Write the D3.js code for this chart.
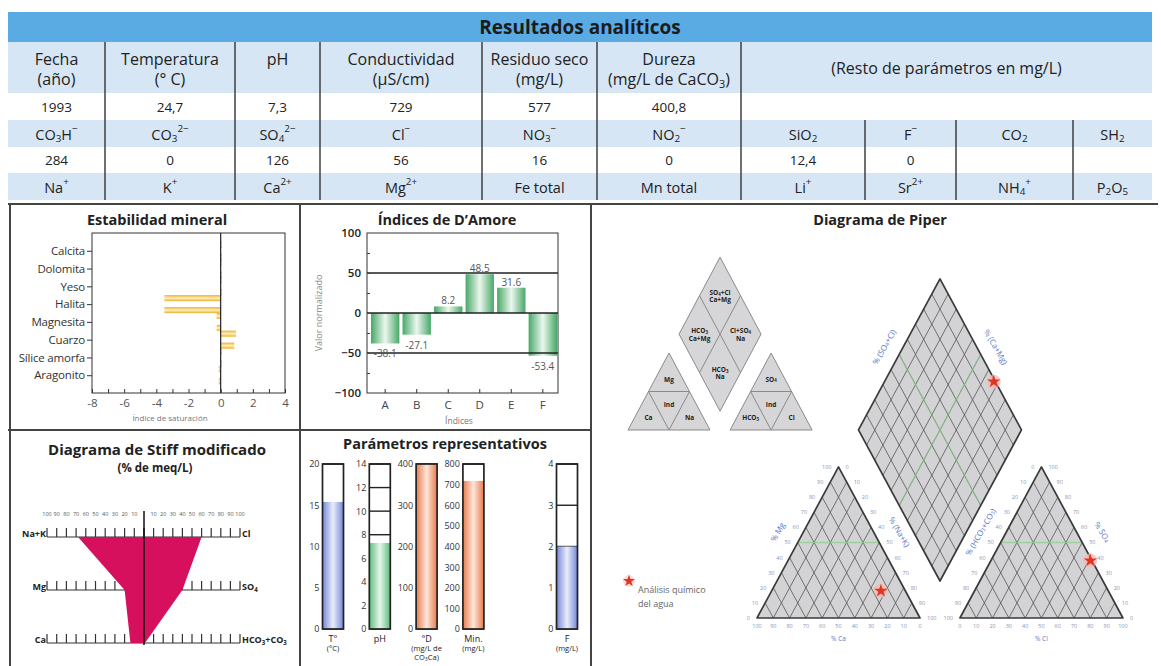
<!DOCTYPE html>
<html><head><meta charset="utf-8">
<script src="https://cdn.jsdelivr.net/npm/d3@7"></script>
<style>
body{margin:0;background:#fff}
svg{display:block}
text{font-family:"Open Sans","Noto Sans","DejaVu Sans",sans-serif}
</style>
</head><body>
<svg id="c" width="1161" height="666"></svg>
<script>
// ---------------- DATA ----------------
const tableTitle = "Resultados analíticos";
const headerLabels = ["Fecha|(año)", "Temperatura|(° C)", "pH", "Conductividad|(µS/cm)", "Residuo seco|(mg/L)", "Dureza|(mg/L de CaCO_{3})"];
const restHeader = "(Resto de parámetros en mg/L)";
const generalValues = ["1993", "24,7", "7,3", "729", "577", "400,8"];
const ionLabelsA = ["CO_{3}H^{−}", "CO_{3}^{2−}", "SO_{4}^{2−}", "Cl^{−}", "NO_{3}^{−}", "NO_{2}^{−}", "SiO_{2}", "F^{−}", "CO_{2}", "SH_{2}"];
const ionValuesA = ["284", "0", "126", "56", "16", "0", "12,4", "0", "", ""];
const ionLabelsB = ["Na^{+}", "K^{+}", "Ca^{2+}", "Mg^{2+}", "Fe total", "Mn total", "Li^{+}", "Sr^{2+}", "NH_{4}^{+}", "P_{2}O_{5}"];

const minerals = ["Calcita", "Dolomita", "Yeso", "Halita", "Magnesita", "Cuarzo", "Sílice amorfa", "Aragonito"];
const satIndexA = [0.02, 0.06, 0.0, -3.5, -0.25, 0.95, 0.05, -0.12];
const satIndexB = [0.02, 0.05, 0.0, -3.5, -0.25, 0.85, 0.03, -0.12];
const satTicks = [-8, -6, -4, -2, 0, 2, 4];

const damoreIdx = ["A", "B", "C", "D", "E", "F"];
const damoreVal = [-38.1, -27.1, 8.2, 48.5, 31.6, -53.4];
const damoreTicks = [-100, -50, 0, 50, 100];

const stiffCations = ["Na+K", "Mg", "Ca"];
const stiffAnions = ["Cl", "SO_{4}", "HCO_{3}+CO_{3}"];
const stiffCatPct = [68, 20, 14];
const stiffAnPct = [60, 40, 1];
const stiffTicks = [0, 10, 20, 30, 40, 50, 60, 70, 80, 90, 100];

const paramNames = ["T°", "pH", "°D", "Min.", "F"];
const paramUnits = [["(°C)"], [], ["(mg/L de", "CO_{3}Ca)"], ["(mg/L)"], ["(mg/L)"]];
const paramMax = [20, 14, 400, 800, 4];
const paramStep = [5, 2, 100, 100, 1];
const paramVal = [15.4, 7.3, 400, 718, 2];
const paramColor = ["blue", "green", "orange", "orange", "blue"];

const cationNames = ["Ca", "Mg", "Na+K"];
const cationPct = [15, 18, 67];
const anionNames = ["HCO3+CO3", "SO4", "Cl"];
const anionPct = [1, 38, 61];
const piperTicks = [0, 10, 20, 30, 40, 50, 60, 70, 80, 90, 100];

// ---------------- HELPERS ----------------
const svg = d3.select("#c");
const defs = svg.append("defs");
function grad(id, edge, mid, vertical) {
  const g = defs.append("linearGradient").attr("id", id)
    .attr("x1", 0).attr("y1", 0).attr("x2", vertical ? 0 : 1).attr("y2", vertical ? 1 : 0);
  [[0, edge], [0.5, mid], [1, edge]].forEach(([o, c]) => g.append("stop").attr("offset", o).attr("stop-color", c));
}
grad("gGold", "#eeae2a", "#fff0c0", true);
grad("gGreen", "#47a867", "#ecf7ef", false);
grad("gblue", "#7388d8", "#e9edfb", false);
grad("ggreen", "#5fbd7c", "#e6f5ea", false);
grad("gorange", "#ea7a4c", "#fde6da", false);

function rich(sel, str, fs) {
  const re = /([_^])\{([^}]*)\}|([^_^]+)/g; let m, cur = 0;
  while ((m = re.exec(str))) {
    let target = 0, t0 = m[3], size = null;
    if (!m[3]) { target = m[1] === "_" ? fs * 0.28 : -fs * 0.38; t0 = m[2]; size = fs * 0.68; }
    const t = sel.append("tspan").attr("dy", target - cur).text(t0);
    if (size) t.attr("font-size", size);
    cur = target;
  }
}
function txt(g, x, y, s, fs, opt = {}) {
  const t = g.append("text").attr("x", x).attr("y", y).attr("font-size", fs)
    .attr("text-anchor", opt.anchor || "middle").attr("dominant-baseline", "central")
    .attr("fill", opt.fill || "#222").attr("font-weight", opt.bold ? 700 : 400);
  if (opt.rotate) t.attr("transform", `rotate(${opt.rotate},${x},${y})`);
  rich(t, s, fs);
  return t;
}

// ---------------- TABLE ----------------
const tbl = svg.append("g");
const colEdges = [8, 105, 235, 320, 482, 597, 741, 865, 956, 1073, 1152];
const rowEdges = [12, 42, 93, 120, 147, 173, 200];
const rowFill = ["#5aaae4", "#d6e6f5", "#ffffff", "#d6e6f5", "#ffffff", "#d6e6f5"];
rowFill.forEach((c, i) => tbl.append("rect").attr("x", colEdges[0]).attr("y", rowEdges[i])
  .attr("width", colEdges[10] - colEdges[0]).attr("height", rowEdges[i + 1] - rowEdges[i]).attr("fill", c));
txt(tbl, (colEdges[0] + colEdges[10]) / 2, 27, tableTitle, 19, {bold: true, fill: "#1b1b1b"});
const cx = i => (colEdges[i] + colEdges[i + 1]) / 2;
const ry = i => (rowEdges[i] + rowEdges[i + 1]) / 2;
headerLabels.forEach((h, i) => {
  const parts = h.split("|");
  if (parts.length === 1) txt(tbl, cx(i), 59, parts[0], 16);
  else parts.forEach((p, k) => txt(tbl, cx(i), 59 + k * 20, p, 16));
});
txt(tbl, (colEdges[6] + colEdges[10]) / 2, ry(1), restHeader, 16);
generalValues.forEach((v, i) => txt(tbl, cx(i), ry(2), v, 13.5));
ionLabelsA.forEach((v, i) => txt(tbl, cx(i), ry(3), v, 14.5));
ionValuesA.forEach((v, i) => txt(tbl, cx(i), ry(4), v, 13.5));
ionLabelsB.forEach((v, i) => txt(tbl, cx(i), ry(5), v, 14.5));
colEdges.slice(1, 7).forEach(x => tbl.append("line").attr("x1", x).attr("x2", x).attr("y1", rowEdges[1]).attr("y2", rowEdges[6]).attr("stroke", "#333").attr("stroke-width", 1.4));
colEdges.slice(7, 10).forEach(x => tbl.append("line").attr("x1", x).attr("x2", x).attr("y1", rowEdges[3]).attr("y2", rowEdges[6]).attr("stroke", "#333").attr("stroke-width", 1.4));

// ---------------- PANEL FRAMES ----------------
const fr = svg.append("g").attr("stroke", "#444").attr("stroke-width", 2);
fr.append("line").attr("x1", 8).attr("x2", 1158).attr("y1", 204).attr("y2", 204);
[10, 300, 591].forEach(x => fr.append("line").attr("x1", x).attr("x2", x).attr("y1", 204).attr("y2", 666));
fr.append("line").attr("x1", 8).attr("x2", 591).attr("y1", 430).attr("y2", 430);

// ---------------- ESTABILIDAD MINERAL ----------------
{
  const g = svg.append("g");
  const x = d3.scaleLinear().domain([-8, 4]).range([92, 285]);
  const y = d3.scalePoint().domain(minerals).range([233, 393]).padding(1);
  const inner = d3.scaleBand().domain(["a", "b"]).range([-9, 9]).paddingInner(0.5);
  txt(g, 157, 219, "Estabilidad mineral", 14.5, {bold: true});
  g.append("rect").attr("x", 92).attr("y", 233).attr("width", 193).attr("height", 160).attr("fill", "none").attr("stroke", "#333");
  [["a", satIndexA], ["b", satIndexB]].forEach(([k, vals]) => {
    g.selectAll(null).data(minerals).enter().append("rect")
      .attr("x", (d, i) => x(Math.min(0, vals[i])))
      .attr("y", d => y(d) + inner(k))
      .attr("width", (d, i) => Math.max(1.2, Math.abs(x(vals[i]) - x(0))))
      .attr("height", inner.bandwidth())
      .attr("fill", "url(#gGold)");
  });
  g.append("line").attr("x1", x(0)).attr("x2", x(0)).attr("y1", 233).attr("y2", 393).attr("stroke", "#222").attr("stroke-width", 1.2);
  const ax = g.append("g").attr("transform", "translate(0,393)")
    .call(d3.axisBottom(x).tickValues(d3.range(-8, 5, 1)).tickSize(-4).tickPadding(6)
      .tickFormat(d => satTicks.includes(d) ? d : ""));
  ax.select(".domain").remove();
  ax.selectAll("text").attr("font-size", 11.5).attr("fill", "#555");
  ax.selectAll("line").attr("stroke", "#333");
  const ay = g.append("g").attr("transform", "translate(92,0)")
    .call(d3.axisLeft(y).tickSize(5).tickPadding(2));
  ay.select(".domain").remove();
  ay.selectAll("text").attr("font-size", 11.5).attr("fill", "#333").attr("letter-spacing", -0.2);
  ay.selectAll("line").attr("stroke", "#333");
  txt(g, 170, 417, "Índice de saturación", 8, {fill: "#777"});
}

// ---------------- D'AMORE ----------------
{
  const g = svg.append("g");
  const x = d3.scaleBand().domain(damoreIdx).range([371, 557]).paddingInner(0.1);
  const y = d3.scaleLinear().domain([-100, 100]).range([393, 233]);
  txt(g, 447, 219, "Índices de D’Amore", 14.5, {bold: true});
  g.selectAll(null).data(damoreIdx).enter().append("rect")
    .attr("x", d => x(d)).attr("width", x.bandwidth())
    .attr("y", (d, i) => y(Math.max(0, damoreVal[i])))
    .attr("height", (d, i) => Math.abs(y(damoreVal[i]) - y(0)))
    .attr("fill", "url(#gGreen)");
  [-50, 0, 50].forEach(v => g.append("line").attr("x1", 367).attr("x2", 558).attr("y1", y(v)).attr("y2", y(v)).attr("stroke", "#222").attr("stroke-width", 1.3));
  g.append("rect").attr("x", 367).attr("y", 233).attr("width", 191).attr("height", 160).attr("fill", "none").attr("stroke", "#333");
  g.selectAll(null).data(damoreIdx).enter().append("text")
    .attr("x", d => x(d) + x.bandwidth() / 2)
    .attr("y", (d, i) => damoreVal[i] >= 0 ? y(damoreVal[i]) - 6 : y(damoreVal[i]) + 10)
    .attr("text-anchor", "middle").attr("dominant-baseline", "central").attr("font-size", 10).attr("fill", "#555")
    .text((d, i) => damoreVal[i].toFixed(1));
  const ay = g.append("g").attr("transform", "translate(367,0)")
    .call(d3.axisLeft(y).tickValues(damoreTicks).tickSize(0).tickPadding(6));
  ay.select(".domain").remove();
  ay.selectAll("text").attr("font-size", 11.5).attr("fill", "#222").attr("font-weight", 600);
  const minor = g.append("g").attr("transform", "translate(367,0)")
    .call(d3.axisLeft(y).tickValues(d3.range(-75, 100, 25)).tickSize(-3).tickFormat(""));
  minor.select(".domain").remove(); minor.selectAll("line").attr("stroke", "#444");
  const ax = g.append("g").attr("transform", "translate(0,393)")
    .call(d3.axisBottom(x).tickSize(-4).tickPadding(8));
  ax.select(".domain").remove();
  ax.selectAll("text").attr("font-size", 11.5).attr("fill", "#444");
  ax.selectAll("line").attr("stroke", "#333");
  txt(g, 459, 420, "Índices", 8.5, {fill: "#777"});
  txt(g, 318, 313, "Valor normalizado", 9, {fill: "#888", rotate: -90});
}

// ---------------- STIFF ----------------
{
  const g = svg.append("g");
  const xl = d3.scaleLinear().domain([0, 100]).range([144, 47]);
  const xr = d3.scaleLinear().domain([0, 100]).range([144, 240]);
  const y = d3.scalePoint().domain(stiffCations).range([537, 643]);
  txt(g, 157, 449, "Diagrama de Stiff modificado", 15, {bold: true});
  txt(g, 155, 467, "(% de meq/L)", 11.5, {bold: true});
  stiffCations.forEach((c, i) => {
    const yy = y(c);
    g.append("line").attr("x1", xl(100)).attr("x2", xr(100)).attr("y1", yy).attr("y2", yy).attr("stroke", "#333").attr("stroke-width", 1.2);
    stiffTicks.forEach(t => {
      g.append("line").attr("x1", xl(t)).attr("x2", xl(t)).attr("y1", yy).attr("y2", yy - 9).attr("stroke", "#333").attr("stroke-width", 1.2);
      g.append("line").attr("x1", xr(t)).attr("x2", xr(t)).attr("y1", yy).attr("y2", yy - 9).attr("stroke", "#333").attr("stroke-width", 1.2);
    });
    txt(g, xl(100) - 1, yy - 4, c, 9, {anchor: "end", bold: true});
    txt(g, xr(100) + 2, yy - 4, stiffAnions[i], 9, {anchor: "start", bold: true});
  });
  stiffTicks.forEach(t => {
    if (t === 0) return;
    txt(g, xl(t), 514, String(t), 5.5, {fill: "#555"});
    txt(g, xr(t), 514, String(t), 5.5, {fill: "#555"});
  });
  const pts = stiffCations.map((c, i) => [xl(stiffCatPct[i]), y(c)])
    .concat(stiffCations.map((c, i) => [xr(stiffAnPct[i]), y(c)]).reverse());
  g.append("path").attr("d", d3.line()(pts) + "Z").attr("fill", "#d6105c");
  g.append("line").attr("x1", 144).attr("x2", 144).attr("y1", 511).attr("y2", 645).attr("stroke", "#111").attr("stroke-width", 1.5);
}

// ---------------- PARAMETROS ----------------
{
  const g = svg.append("g");
  txt(g, 445, 443, "Parámetros representativos", 14.5, {bold: true});
  const slot = d3.scalePoint().domain(["T°", "pH", "°D", "Min.", "", "F"]).range([333, 567]);
  const tw = 21, top = 464, bot = 629;
  paramNames.forEach((p, i) => {
    const y = d3.scaleLinear().domain([0, paramMax[i]]).range([bot, top]);
    const x0 = slot(p) - tw / 2;
    const ticks = d3.range(0, paramMax[i] + 1e-9, paramStep[i]);
    ticks.forEach(t => g.append("line").attr("x1", x0).attr("x2", x0 + tw).attr("y1", y(t)).attr("y2", y(t)).attr("stroke", "#222").attr("stroke-width", 1.4));
    const v = Math.min(paramVal[i], paramMax[i]);
    g.append("rect").attr("x", x0).attr("width", tw).attr("y", y(v))
      .attr("height", bot - y(v)).attr("fill", `url(#g${paramColor[i]})`);
    g.append("rect").attr("x", x0).attr("y", top).attr("width", tw).attr("height", bot - top).attr("fill", "none").attr("stroke", "#222").attr("stroke-width", 1.7);
    const ax = g.append("g").attr("transform", `translate(${x0},0)`)
      .call(d3.axisLeft(y).tickValues(ticks).tickSize(0).tickPadding(3).tickFormat(d3.format("d")));
    ax.select(".domain").remove();
    ax.selectAll("text").attr("font-size", 9).attr("fill", "#333");
    txt(g, slot(p), 638, p, 9);
    paramUnits[i].forEach((u, k) => txt(g, slot(p), 648 + k * 9, u, 7.5));
  });
}

// ---------------- PIPER ----------------
const Hh = Math.sqrt(3) / 2, GAP = 0.245, OFF = 1 + GAP;
const Bv = [1 + GAP / 2, GAP * Hh], Lv = [0.5 + GAP / 2, (1 + GAP) * Hh], Rv = [1.5 + GAP / 2, (1 + GAP) * Hh], Tv = [1 + GAP / 2, (2 + GAP) * Hh];
function piperFrame(g, sx, sy, opts) {
  const P = p => [sx(p[0]), sy(p[1])];
  const line = d3.line();
  const triL = [[0, 0], [1, 0], [0.5, Hh]];
  const triR = [[OFF, 0], [OFF + 1, 0], [OFF + 0.5, Hh]];
  const dia = [Bv, Rv, Tv, Lv];
  const outline = [];
  [triL, triR, dia].forEach(poly => {
    g.append("path").attr("d", line(poly.map(P)) + "Z").attr("fill", opts.grid ? "#d3d3d5" : "#d6d6d8");
    outline.push(poly);
  });
  const seg = (a, b, col, w, op) => g.append("line").attr("x1", sx(a[0])).attr("y1", sy(a[1])).attr("x2", sx(b[0])).attr("y2", sy(b[1]))
    .attr("stroke", col).attr("stroke-width", w).attr("opacity", op);
  const add = (a, b, k) => [a[0] + b[0] * k, a[1] + b[1] * k];
  const sub = (a, b) => [a[0] - b[0], a[1] - b[1]];
  const ts = opts.grid ? d3.range(1, 10).map(i => i / 10) : [0.5];
  const col = opts.grid ? "#555" : "#8a8a8a";
  const w = opts.grid ? 0.8 : 1;
  [0, OFF].forEach(o => {
    ts.forEach(t => {
      seg([o + t, 0], [o + t + (1 - t) * 0.5, (1 - t) * Hh], col, w, 1);
      seg([o + t, 0], [o + t * 0.5, t * Hh], col, w, 1);
    });
    seg([o + 0.25, Hh / 2], [o + 0.75, Hh / 2], opts.grid ? "#8fd08f" : "#8a8a8a", opts.grid ? 1.4 : 1, opts.grid ? 0.8 : 1);
  });
  const BR = sub(Rv, Bv), BL = sub(Lv, Bv);
  ts.forEach(t => {
    const p1 = add(Bv, BR, t); seg(p1, add(p1, BL, 1), col, w, 1);
    const q1 = add(Bv, BL, t); seg(q1, add(q1, BR, 1), col, w, 1);
  });
  if (opts.grid) {
    const p1 = add(Bv, BR, 0.5); seg(p1, add(p1, BL, 1), "#8fd08f", 1.2, 0.7);
    const q1 = add(Bv, BL, 0.5); seg(q1, add(q1, BR, 1), "#8fd08f", 1.2, 0.7);
  }
  outline.forEach(poly => g.append("path").attr("d", line(poly.map(P)) + "Z").attr("fill", "none")
    .attr("stroke", opts.grid ? "#3a3a3a" : "#8a8a8a").attr("stroke-width", opts.grid ? 1.7 : 1).attr("stroke-linejoin", "round"));
}
{
  const g = svg.append("g");
  txt(g, 880, 219, "Diagrama de Piper", 14.5, {bold: true});
  // schematic
  const sx = d3.scaleLinear().domain([0, 1]).range([628, 710]);
  const sy = d3.scaleLinear().domain([0, 1]).range([430, 430 - 88.9]);
  piperFrame(g, sx, sy, {grid: false});
  const sLab = (p, lines) => lines.forEach((l, k) => txt(g, sx(p[0]), sy(p[1]) + (k - (lines.length - 1) / 2) * 7.5, l, 6.5, {bold: true, fill: "#222"}));
  const cen = (a, b, c) => [(a[0] + b[0] + c[0]) / 3, (a[1] + b[1] + c[1]) / 3];
  const mid = (a, b) => [(a[0] + b[0]) / 2, (a[1] + b[1]) / 2];
  [0, OFF].forEach((o, k) => {
    const A = [o, 0], B = [o + 1, 0], C = [o + 0.5, Hh];
    const mAC = mid(A, C), mBC = mid(B, C), mAB = mid(A, B);
    const labs = k === 0 ? ["Mg", "Ind", "Ca", "Na"] : ["SO_{4}", "Ind", "HCO_{3}", "Cl"];
    sLab(cen(mAC, mBC, C), [labs[0]]);
    sLab(cen(mAC, mBC, mAB), [labs[1]]);
    sLab(cen(A, mAB, mAC), [labs[2]]);
    sLab(cen(mAB, B, mBC), [labs[3]]);
  });
  const dc = (a, b) => [Bv[0] + (Rv[0] - Bv[0]) * a + (Lv[0] - Bv[0]) * b, Bv[1] + (Rv[1] - Bv[1]) * a + (Lv[1] - Bv[1]) * b];
  sLab(dc(0.75, 0.75), ["SO_{4}+Cl", "Ca+Mg"]);
  sLab(dc(0.25, 0.75), ["HCO_{3}", "Ca+Mg"]);
  sLab(dc(0.75, 0.25), ["Cl+SO_{4}", "Na"]);
  sLab(dc(0.25, 0.25), ["HCO_{3}", "Na"]);

  // main diagram
  const X = d3.scaleLinear().domain([0, 1]).range([757, 920]);
  const Y = d3.scaleLinear().domain([0, 1]).range([618, 618 - 174.4]);
  piperFrame(g, X, Y, {grid: true});
  const tc = "#8a93b3", fs = 5.5;
  piperTicks.forEach(v => {
    const f = v / 100;
    txt(g, X(1 - f), Y(0) + 8, String(v), fs, {fill: tc});
    txt(g, X(f * 0.5) - 7, Y(f * Hh), String(v), fs, {fill: tc, anchor: "end"});
    txt(g, X(1 - (1 - f) * 0.5) + 7, Y((1 - f) * Hh), String(v), fs, {fill: tc, anchor: "start"});
    txt(g, X(OFF + f), Y(0) + 8, String(v), fs, {fill: tc});
    txt(g, X(OFF + (1 - f) * 0.5) - 7, Y((1 - f) * Hh), String(v), fs, {fill: tc, anchor: "end"});
    txt(g, X(OFF + 1 - f * 0.5) + 7, Y(f * Hh), String(v), fs, {fill: tc, anchor: "start"});
  });
  const ac = "#5a78c8";
  txt(g, X(0.5), Y(0) + 20, "% Ca", 6.5, {fill: ac});
  txt(g, X(OFF + 0.5), Y(0) + 20, "% Cl", 6.5, {fill: ac});
  txt(g, X(0.25) - 21, Y(Hh / 2) - 11, "% Mg", 8, {fill: ac, rotate: -60});
  txt(g, X(0.75) + 21, Y(Hh / 2) - 11, "% (Na+K)", 8, {fill: ac, rotate: 60});
  txt(g, X(OFF + 0.25) - 21, Y(Hh / 2) - 11, "% (HCO_{3}+CO_{3})", 8, {fill: ac, rotate: -60});
  txt(g, X(OFF + 0.75) + 21, Y(Hh / 2) - 11, "% SO_{4}", 8, {fill: ac, rotate: 60});
  const mLT = [(Lv[0] + Tv[0]) / 2, (Lv[1] + Tv[1]) / 2], mRT = [(Rv[0] + Tv[0]) / 2, (Rv[1] + Tv[1]) / 2];
  txt(g, X(mLT[0]) - 16, Y(mLT[1]) - 8, "% (SO_{4}+Cl)", 8, {fill: ac, rotate: -60});
  txt(g, X(mRT[0]) + 16, Y(mRT[1]) - 8, "% (Ca+Mg)", 8, {fill: ac, rotate: 60});

  // sample point
  const fc = cationPct.map(v => v / 100), fa = anionPct.map(v => v / 100);
  const cat = [fc[2] + fc[1] / 2, fc[1] * Hh];
  const an = [OFF + fa[2] + fa[1] / 2, fa[1] * Hh];
  const a = fa[1] + fa[2], b = fc[0] + fc[1];
  const dia = [Bv[0] + (Rv[0] - Bv[0]) * a + (Lv[0] - Bv[0]) * b, Bv[1] + (Rv[1] - Bv[1]) * a + (Lv[1] - Bv[1]) * b];
  const star = d3.symbol(d3.symbolStar, 55);
  const drawStar = (x, y) => {
    g.append("circle").attr("cx", x).attr("cy", y).attr("r", 7).attr("fill", "#f6b5b0").attr("opacity", 0.7);
    g.append("path").attr("d", star()).attr("transform", `translate(${x},${y})`).attr("fill", "#e0341f");
  };
  [cat, an, dia].forEach(p => drawStar(X(p[0]), Y(p[1])));
  g.append("circle").attr("cx", 629).attr("cy", 581).attr("r", 6).attr("fill", "#f9d0cc").attr("opacity", 0.7);
  g.append("path").attr("d", d3.symbol(d3.symbolStar, 45)()).attr("transform", "translate(629,581)").attr("fill", "#e0341f");
  txt(g, 638, 589, "Análisis químico", 9, {anchor: "start", fill: "#666"});
  txt(g, 638, 603, "del agua", 9, {anchor: "start", fill: "#666"});
}
</script>
</body></html>
